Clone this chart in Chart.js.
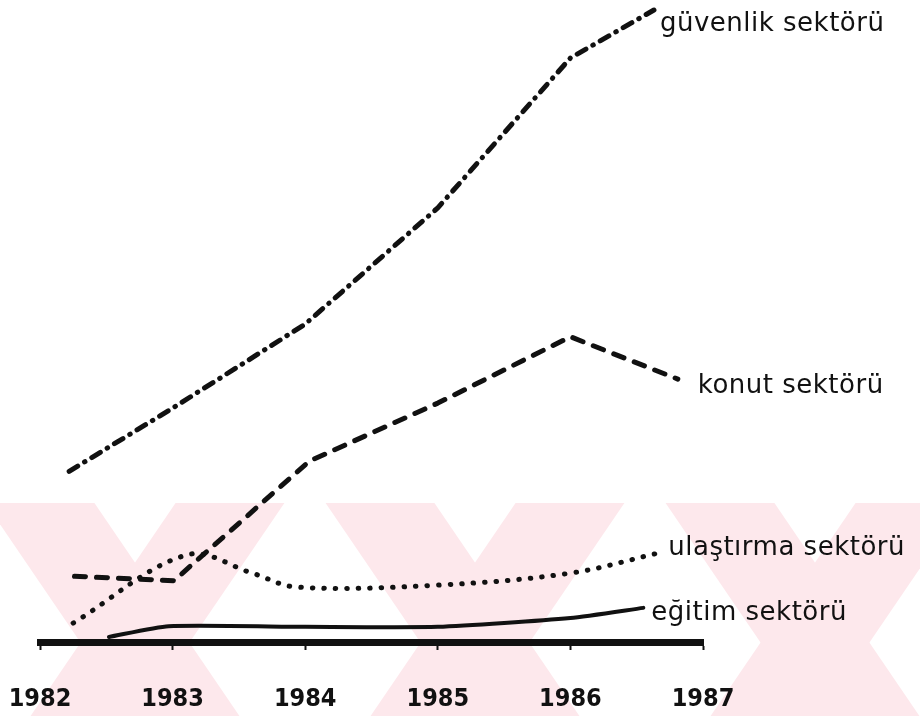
<!DOCTYPE html>
<html lang="tr">
<head>
<meta charset="utf-8">
<title>Sektörler 1982-1987</title>
<script src="https://cdn.jsdelivr.net/npm/chart.js@4.4.1/dist/chart.umd.min.js"></script>
<style>
  html, body { margin: 0; padding: 0; background: #fff; }
</style>
</head>
<body>
<canvas id="chart" width="920" height="716"></canvas>
<script>
// Axis years
const years = [1982, 1983, 1984, 1985, 1986, 1987];

// Series (arbitrary units, 0 = axis)
const guvenlikX = [1982.22, 1983, 1984, 1985, 1986, 1986.63];
const guvenlikY = [27.0, 37.0, 50.3, 68.7, 92.4, 100.0];

const konutX = [1982.26, 1983.01, 1984.03, 1985, 1986, 1986.81];
const konutY = [10.4, 9.7, 28.6, 37.8, 48.3, 41.6];

const ulastirmaX = [1982.25, 1983.11, 1983.6, 1983.93, 1985, 1986, 1986.67];
const ulastirmaY = [3.0, 13.8, 10.9, 8.7, 9.0, 10.9, 14.1];

const egitimX = [1982.52, 1982.97, 1984, 1985, 1986, 1986.55];
const egitimY = [0.8, 2.5, 2.4, 2.4, 3.8, 5.4];

const seriesNames = ['güvenlik sektörü', 'konut sektörü', 'ulaştırma sektörü', 'eğitim sektörü'];

// where each name sits next to the end of its line
const labelOffsets = [[6, 21], [20, 14], [9, 2], [8, 12]];

function toPoints(xs, ys) {
    return xs.map((x, i) => ({ x: x, y: ys[i] }));
}

// Faint pink watermark behind the lower part of the page
const watermark = {
    id: 'watermark',
    beforeDraw(chart) {
        const ctx = chart.ctx;
        ctx.save();
        ctx.beginPath();
        ctx.rect(0, 503, 920, 213);
        ctx.clip();
        ctx.strokeStyle = '#fde8ec';
        ctx.lineWidth = 90;
        const bands = [
            [40, 185], [230, 85],
            [380, 525], [570, 425],
            [720, 865], [910, 765]
        ];
        bands.forEach(b => {
            ctx.beginPath();
            ctx.moveTo(b[0] - (b[1] - b[0]) * 0.2, 503 - 213 * 0.2);
            ctx.lineTo(b[1] + (b[1] - b[0]) * 0.2, 716 + 213 * 0.2);
            ctx.stroke();
        });
        ctx.restore();
    }
};

// Series names at the line ends
const endLabels = {
    id: 'endLabels',
    afterDatasetsDraw(chart) {
        const ctx = chart.ctx;
        ctx.save();
        ctx.font = '26px "DejaVu Sans", "Noto Sans", sans-serif';
        ctx.letterSpacing = '0.5px';
        ctx.fillStyle = '#111';
        ctx.textBaseline = 'alphabetic';
        chart.data.datasets.forEach((ds, i) => {
            const pts = chart.getDatasetMeta(i).data;
            const last = pts[pts.length - 1];
            ctx.fillText(ds.label, last.x + labelOffsets[i][0], last.y + labelOffsets[i][1]);
        });
        ctx.restore();
    }
};

const lineBase = {
    borderColor: '#111',
    borderCapStyle: 'round',
    borderJoinStyle: 'round',
    pointRadius: 0,
    fill: false,
    clip: false
};

new Chart(document.getElementById('chart'), {
    type: 'line',
    data: {
        datasets: [
            Object.assign({}, lineBase, {
                label: seriesNames[0],
                data: toPoints(guvenlikX, guvenlikY),
                borderWidth: 5,
                borderDash: [10, 8, 0.5, 8],
                tension: 0
            }),
            Object.assign({}, lineBase, {
                label: seriesNames[1],
                data: toPoints(konutX, konutY),
                borderWidth: 5,
                borderDash: [11, 11],
                tension: 0
            }),
            Object.assign({}, lineBase, {
                label: seriesNames[2],
                data: toPoints(ulastirmaX, ulastirmaY),
                borderWidth: 5,
                borderDash: [0.5, 11],
                tension: 0.35
            }),
            Object.assign({}, lineBase, {
                label: seriesNames[3],
                data: toPoints(egitimX, egitimY),
                borderWidth: 4,
                tension: 0.2
            })
        ]
    },
    options: {
        responsive: false,
        animation: false,
        layout: { padding: { left: 40, right: 217, top: 10, bottom: 0 } },
        plugins: {
            legend: { display: false },
            tooltip: { enabled: false }
        },
        scales: {
            x: {
                type: 'linear',
                min: years[0],
                max: years[years.length - 1],
                afterBuildTicks: axis => {
                    axis.ticks = years.map(v => ({ value: v }));
                },
                afterFit: scale => {
                    // fixed strip below the axis, no extra side padding for the labels
                    scale.height = 74;
                    scale.paddingLeft = 0;
                    scale.paddingRight = 0;
                },
                ticks: {
                    callback: v => String(v),
                    color: '#111',
                    padding: 34,
                    maxRotation: 0,
                    autoSkip: false,
                    font: { family: '"DejaVu Sans Condensed", "Liberation Sans Narrow", "DejaVu Sans", sans-serif', size: 25, weight: 'bold' }
                },
                grid: {
                    drawOnChartArea: false,
                    tickLength: 8,
                    tickWidth: 2,
                    color: '#111'
                },
                border: { display: true, width: 7, color: '#111' }
            },
            y: {
                display: false,
                min: 0,
                max: 100
            }
        }
    },
    plugins: [watermark, endLabels]
});
</script>
</body>
</html>
